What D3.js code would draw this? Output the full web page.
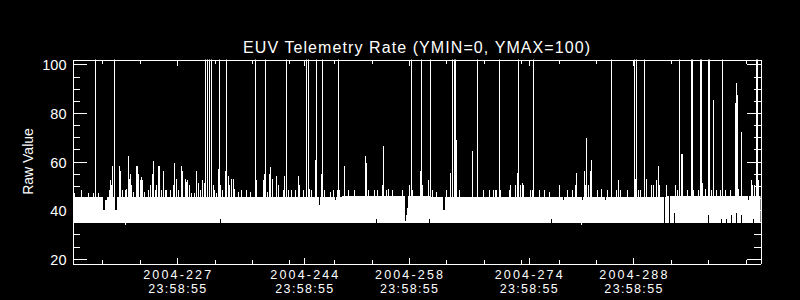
<!DOCTYPE html>
<html lang="en">
<head>
<meta charset="utf-8">
<title>EUV Telemetry Rate</title>
<script src="https://d3js.org/d3.v7.min.js"></script>
<style>
  body { margin: 0; background: #000; }
  svg { display: block; }
  text { font-family: "Liberation Sans", Arial, sans-serif; fill: #fff; }
  .axis text { font-size: 14.5px; }
  .axis path, .axis line { stroke: #fff; shape-rendering: crispEdges; }
  .data rect, .data path { shape-rendering: crispEdges; }
</style>
</head>
<body>
<script>
// x values are 2004 day-of-year plus fraction of the day
var xDomain = [214, 306];
var yDomain = [18, 102];

var yMajorTicks = [20, 40, 60, 80, 100];
var yMinorTicks = [25, 30, 35, 45, 50, 55, 65, 70, 75, 85, 90, 95];

var xMajorTicks = [227.9992, 244.9992, 258.9992, 274.9992, 288.9992];
var xLabelDate = ["2004-227", "2004-244", "2004-258", "2004-274", "2004-288"];
var xLabelTime = ["23:58:55", "23:58:55", "23:58:55", "23:58:55", "23:58:55"];
var xMinorTicks = [218, 223, 228, 233, 238, 243, 249, 254, 259, 264, 269, 274, 279, 284, 289, 294, 299, 304];

// the dense part of the signal: lower edge and upper level of the band
var bandLow = 34.7;
var bandDay = [214, 250, 262, 293.3, 306];
var bandTop = [45.4, 45.6, 45.4, 46.0, 46.0];

// readings far above the scale (clipped at the top)
var offScale = 255;
var topSpikeDay = [217.13, 219.62, 231.81, 232.08, 232.35, 232.55, 233.68, 234.62, 238.43, 239.83,
  242.64, 245.32, 245.52, 246.59, 247.39, 249.60, 259.29, 260.70, 261.83, 264.77,
  265.11, 265.24, 268.21, 271.09, 273.64, 275.64, 286.10, 289.15, 289.38, 290.49,
  295.13, 296.73, 296.87, 297.93, 298.07, 299.07, 299.21, 300.95, 305.46, 305.60];

// single readings above the band
var spikeDay = [
  214.32, 215.14, 216.14, 216.81, 217.48, 218.91, 219.04, 219.22, 219.40, 220.28,
  220.47, 220.74, 221.05, 221.27, 221.49, 221.62, 221.76, 221.94, 222.16, 222.52,
  222.72, 222.83, 223.05, 223.28, 223.41, 223.59, 224.16, 224.48, 224.66, 224.83,
  225.06, 225.29, 225.50, 225.69, 225.95, 226.17, 226.40, 226.62, 227.06, 227.51,
  227.64, 227.87, 228.17, 228.54, 228.76, 229.07, 229.20, 229.38, 229.61, 229.97,
  230.27, 230.63, 230.85, 231.08, 231.44, 231.65, 232.81, 233.04, 233.26, 233.48,
  233.79, 234.02, 234.46, 234.91, 235.05, 235.26, 235.49, 235.62, 236.16, 236.60,
  237.27, 237.86, 238.60, 239.50, 239.63, 240.08, 240.40, 240.53, 240.74, 241.28,
  241.51, 242.17, 242.40, 242.84, 243.28, 243.82, 244.27, 244.41, 244.85, 245.74,
  245.96, 246.49, 247.30, 247.66, 248.55, 248.86, 249.44, 249.76, 250.33, 250.96,
  251.71, 253.18, 253.37, 253.63, 254.38, 254.84, 255.41, 255.59, 256.04, 256.26,
  256.84, 258.18, 259.06, 259.52, 260.49, 260.76, 261.66, 262.10, 262.63, 263.97,
  264.55, 265.40, 265.75, 267.54, 268.96, 269.72, 270.29, 270.52, 270.75, 271.29,
  272.40, 272.62, 273.20, 273.51, 273.87, 274.17, 274.31, 275.20, 275.47, 276.41,
  277.14, 277.74, 279.08, 280.19, 280.86, 281.31, 281.40, 282.42, 282.56, 282.73,
  283.00, 283.23, 283.40, 284.20, 284.74, 285.54, 286.80, 287.01, 287.33, 288.17,
  289.28, 289.74, 289.95, 290.76, 291.42, 291.75, 292.09, 292.32, 292.55, 293.43,
  294.63, 294.86, 295.44, 295.62, 296.20, 297.09, 297.67, 298.20, 298.65, 299.45,
  299.74, 300.08, 300.65, 301.32, 301.99, 302.62, 302.82, 302.93, 303.11, 303.46,
  304.80, 304.93, 305.25, 305.79];
var spikeVal = [
  47, 48.2, 47, 47, 47, 48.2, 52.3, 50.2, 58.1, 58,
  56, 48.2, 48.2, 48.8, 62.2, 53, 55, 50.2, 47.5, 58,
  58, 55, 52.3, 53.7, 52.3, 47.5, 48.2, 50.2, 55, 60.1,
  48.2, 50.2, 58, 58, 48.2, 56, 48.2, 48.2, 48.2, 50.2,
  59.2, 53, 48.2, 58, 56, 53, 51.6, 52.3, 50.2, 47,
  47, 56, 51.2, 48.2, 52.3, 51, 50.2, 48.2, 47, 57.1,
  50.2, 48.2, 56, 54, 50.2, 53, 53, 48.8, 47.5, 48.2,
  48.2, 47.5, 52.3, 52.3, 55, 47.5, 55, 57.8, 53, 54,
  50.2, 48.2, 54, 48.2, 48.2, 48.2, 54, 50.2, 48.2, 48.8,
  48.2, 60.8, 55, 48.2, 47.5, 48.2, 48.2, 48.2, 58, 48.2,
  48.2, 62.2, 59.4, 48.2, 48.2, 48.2, 50.2, 66.3, 48.2, 48.8,
  48.2, 48.2, 50.2, 48.2, 56.1, 50.2, 52.3, 48.2, 47.5, 48.2,
  55.3, 69, 48.2, 64.2, 48.2, 48.2, 48.2, 48.2, 48.2, 48.2,
  48.2, 50.2, 50.2, 55.3, 50.2, 51.2, 50.2, 48.2, 48.2, 48.2,
  48.2, 47.5, 50.2, 48.2, 48.2, 50.2, 55.3, 56, 50.2, 69.5,
  50.2, 56, 60.8, 48.2, 48.8, 48.2, 48.2, 52.3, 48.2, 48.2,
  53, 48.2, 48.2, 53, 50.2, 50.2, 52.3, 58, 50.2, 50.2,
  50.2, 48.2, 63, 63, 48.2, 48.2, 48.2, 51.2, 48.8, 48.2,
  85.3, 48.2, 48.2, 48.2, 48.2, 83.9, 92.2, 87.3, 48.8, 72.2,
  52.3, 50.2, 50.2, 52.3];

// short stretches where the signal drops below the band level
var notchStart = [218.13, 218.37, 219.70, 247.05, 249.19, 258.50, 258.66, 258.80, 263.57, 279.70, 282.15, 285.32, 293.10, 293.82, 304.40];
var notchEnd   = [218.37, 218.62, 220.07, 247.15, 249.28, 258.66, 258.80, 258.95, 263.84, 279.80, 282.25, 285.42, 293.22, 293.94, 304.50];
var notchTop   = [40, 44, 40, 42, 44, 35.3, 38, 41, 40, 44, 44, 44, 34.7, 34.7, 44];

// single readings whose lower edge differs from the band
var dipDay = [221.05, 233.84, 254.70, 261.74, 278.08, 282.09, 294.53, 299.05, 300.84, 301.51, 302.18, 302.75, 303.51, 305.07];
var dipLow = [34, 36.5, 36.5, 36.5, 36.5, 34, 38.6, 37.9, 36.5, 36.5, 37.9, 38.6, 37.9, 36.5];

var W = 800, H = 300;
var plotLeft = 72.5, plotRight = 760.5, plotTop = 59.5, plotBottom = 263.5;

var svg = d3.select("body").append("svg").attr("width", W).attr("height", H);
svg.append("rect").attr("width", W).attr("height", H).attr("fill", "#000");

var x = d3.scaleLinear().domain(xDomain).range([plotLeft, plotRight]);
var y = d3.scaleLinear().domain(yDomain).range([plotBottom, plotTop]);

svg.append("clipPath").attr("id", "plot")
  .append("rect").attr("x", plotLeft).attr("y", plotTop)
  .attr("width", plotRight - plotLeft).attr("height", plotBottom - plotTop);

var data = svg.append("g").attr("class", "data").attr("clip-path", "url(#plot)");

// band
var band = bandDay.map(function (d, i) { return { d: d, v: bandTop[i] }; });
data.append("path")
  .datum(band)
  .attr("fill", "#fff")
  .attr("d", d3.area().curve(d3.curveStepAfter)
    .x(function (p) { return x(p.d); })
    .y0(y(bandLow))
    .y1(function (p) { return y(p.v); }));

function px(d) { return Math.floor(x(d)); }

// spikes
var spikes = topSpikeDay.map(function (d) { return { d: d, v: offScale }; })
  .concat(spikeDay.map(function (d, i) { return { d: d, v: spikeVal[i] }; }));
data.selectAll("rect.spike").data(spikes).enter().append("rect")
  .attr("class", "spike")
  .attr("x", function (p) { return px(p.d); })
  .attr("width", 1)
  .attr("y", function (p) { return y(p.v); })
  .attr("height", function (p) { return y(bandLow) - y(p.v); })
  .attr("fill", "#fff");

// notches
data.selectAll("rect.notch").data(notchStart).enter().append("rect")
  .attr("class", "notch")
  .attr("x", function (d) { return px(d); })
  .attr("width", function (d, i) { return Math.max(1, px(notchEnd[i]) - px(d)); })
  .attr("y", y(50))
  .attr("height", function (d, i) { return y(notchTop[i]) - y(50); })
  .attr("fill", "#000");

// lower edge differences
data.selectAll("rect.dip").data(dipDay).enter().append("rect")
  .attr("class", "dip")
  .attr("x", function (d) { return px(d); })
  .attr("width", 1)
  .attr("y", function (d, i) { return y(Math.max(dipLow[i], bandLow)); })
  .attr("height", function (d, i) { return Math.abs(y(dipLow[i]) - y(bandLow)); })
  .attr("fill", function (d, i) { return dipLow[i] > bandLow ? "#000" : "#fff"; });

// axes, ticks pointing inward like the original
function axis(gen, tx, ty) {
  return svg.append("g").attr("class", "axis").attr("color", "#fff")
    .attr("transform", "translate(" + tx + "," + ty + ")").call(gen);
}
axis(d3.axisLeft(y).tickValues(yMajorTicks).tickSize(-14).tickSizeOuter(0).tickPadding(6), plotLeft, 0)
  .selectAll("text").attr("dy", "0.38em");
axis(d3.axisLeft(y).tickValues(yMinorTicks).tickSize(-7).tickSizeOuter(0).tickFormat(""), plotLeft, 0);
axis(d3.axisRight(y).tickValues(yMajorTicks).tickSize(-14).tickSizeOuter(0).tickFormat(""), plotRight, 0);
axis(d3.axisRight(y).tickValues(yMinorTicks).tickSize(-7).tickSizeOuter(0).tickFormat(""), plotRight, 0);
axis(d3.axisBottom(x).tickValues(xMajorTicks).tickSize(-6).tickSizeOuter(0).tickFormat(""), 0, plotBottom);
axis(d3.axisBottom(x).tickValues(xMinorTicks).tickSize(-4).tickSizeOuter(0).tickFormat(""), 0, plotBottom);
axis(d3.axisTop(x).tickValues(xMajorTicks).tickSize(-6).tickSizeOuter(0).tickFormat(""), 0, plotTop);
axis(d3.axisTop(x).tickValues(xMinorTicks).tickSize(-4).tickSizeOuter(0).tickFormat(""), 0, plotTop);

// two-line time labels
var xl = svg.append("g").attr("font-size", 12.5).attr("text-anchor", "middle");
xl.selectAll("text.date").data(xMajorTicks).enter().append("text")
  .attr("class", "date")
  .attr("x", function (d) { return x(d); })
  .attr("y", 278.6)
  .attr("textLength", 68).attr("lengthAdjust", "spacing")
  .text(function (d, i) { return xLabelDate[i]; });
xl.selectAll("text.time").data(xMajorTicks).enter().append("text")
  .attr("class", "time")
  .attr("x", function (d) { return x(d); })
  .attr("y", 293)
  .attr("textLength", 58).attr("lengthAdjust", "spacing")
  .text(function (d, i) { return xLabelTime[i]; });

svg.append("text")
  .attr("x", (plotLeft + plotRight) / 2).attr("y", 53.3)
  .attr("text-anchor", "middle").attr("font-size", 16)
  .attr("textLength", 347).attr("lengthAdjust", "spacing")
  .text("EUV Telemetry Rate (YMIN=0, YMAX=100)");

svg.append("text")
  .attr("transform", "translate(33.3," + (plotTop + plotBottom) / 2 + ") rotate(-90)")
  .attr("text-anchor", "middle").attr("font-size", 14)
  .text("Raw Value");
</script>
</body>
</html>
